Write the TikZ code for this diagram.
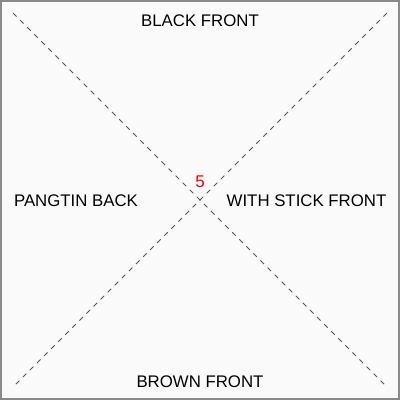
\documentclass[tikz,border=0pt]{standalone}
\usepackage{fontspec}
\setmainfont{Liberation Sans}
\definecolor{bordergray}{HTML}{8A8A8A}
\definecolor{bgfill}{HTML}{FAFAFA}
\definecolor{dashgray}{HTML}{555555}
\tikzset{
  lbl/.style={font=\fontsize{16.8}{19}\selectfont, text=black, inner sep=0pt},
  num/.style={font=\fontsize{17}{19}\selectfont, text=red, inner sep=0pt},
  diag/.style={draw=dashgray, line width=0.8pt, dash pattern=on 5pt off 5pt}
}
\begin{document}
\begin{tikzpicture}[x=1pt,y=-1pt]
\useasboundingbox (0,0) rectangle (400,400);
\draw[draw=bordergray, fill=bgfill, line width=2pt] (1,1) rectangle (399,399);
\coordinate (tl) at (13,13);
\coordinate (br) at (387,387);
\coordinate (tr) at (387,13);
\coordinate (bl) at (13,387);
\draw[diag] (tl) -- (br);
\draw[diag] (tr) -- (bl);
\node[lbl] (top) at (200,21) {BLACK FRONT};
\node[lbl] (left) at (76,201) {PANGTIN BACK};
\node[lbl] (right) at (306.5,201) {WITH STICK FRONT};
\node[lbl] (bottom) at (200,382) {BROWN FRONT};
\node[num] (five) at (200,182) {5};
\end{tikzpicture}
\end{document}
